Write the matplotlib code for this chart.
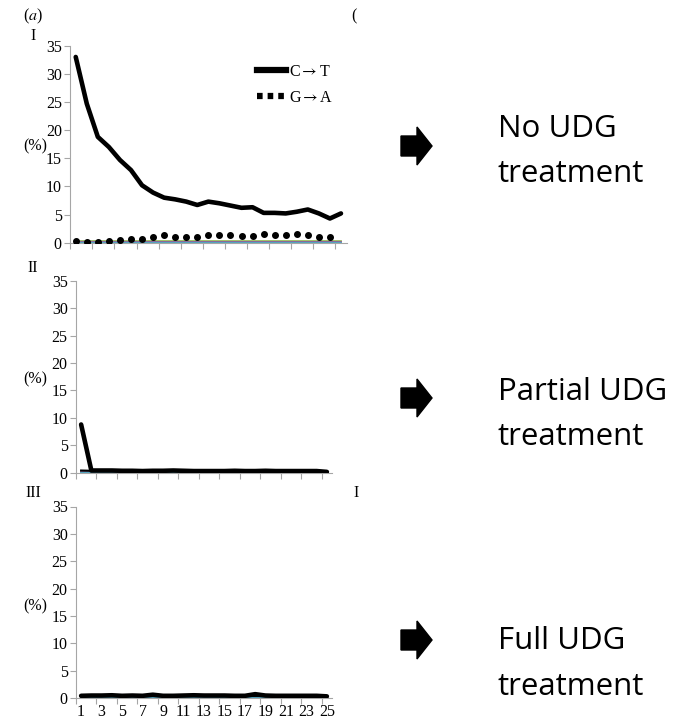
import numpy as np
import matplotlib
matplotlib.use("Agg")
import matplotlib.pyplot as plt
from matplotlib.lines import Line2D
from matplotlib.patches import Polygon

plt.rcParams["mathtext.fontset"] = "stix"

# read-position 1..25
positions = list(range(1, 26))

# panel I : no UDG
ct_none = [33.0, 24.7, 18.8, 17.0, 14.7, 12.9, 10.2, 8.9, 8.0, 7.7, 7.3, 6.7, 7.3,
           7.0, 6.6, 6.2, 6.3, 5.3, 5.3, 5.2, 5.5, 5.9, 5.2, 4.3, 5.2]
ga_none = [0.35, 0.1, 0.2, 0.35, 0.5, 0.7, 0.7, 1.1, 1.35, 1.1, 1.1, 1.1, 1.35,
           1.3, 1.35, 1.2, 1.2, 1.5, 1.35, 1.3, 1.5, 1.35, 1.1, 1.1]

# panel II : partial UDG
ct_partial = [8.8, 0.4, 0.4, 0.4, 0.35, 0.35, 0.3, 0.35, 0.35, 0.4, 0.35, 0.3, 0.3,
              0.3, 0.3, 0.35, 0.3, 0.3, 0.35, 0.3, 0.3, 0.3, 0.3, 0.3, 0.15]
ga_partial = [0.4, 0.35, 0.3, 0.3, 0.3, 0.3, 0.3, 0.3, 0.3, 0.3, 0.3, 0.3, 0.3,
              0.3, 0.3, 0.3, 0.3, 0.3, 0.3, 0.3, 0.3, 0.3, 0.3, 0.3, 0.3]

# panel III : full UDG
ct_full = [0.4, 0.45, 0.45, 0.5, 0.4, 0.45, 0.4, 0.6, 0.4, 0.4, 0.45, 0.5, 0.45,
           0.45, 0.45, 0.4, 0.4, 0.7, 0.45, 0.4, 0.4, 0.4, 0.4, 0.4, 0.3]
ga_full = [0.3] * 25

# remaining substitution types, all close to zero
other_levels = [0.3, 0.18, 0.1, 0.03]
other_colors = ["#9bbb59", "#f79646", "#8064a2", "#4bacc6"]

panel_names = ["I", "II", "III"]
ct_all = [ct_none, ct_partial, ct_full]
ga_all = [ga_none, ga_partial, ga_full]
treatments = [["No UDG", "treatment"], ["Partial UDG", "treatment"], ["Full UDG", "treatment"]]

W, H = 687, 719
fig = plt.figure(figsize=(W / 100, H / 100), dpi=100)

# axes boxes in pixels: left, right, y0 pixel, y35 pixel
boxes = [(70.2, 346.5, 242.7, 45.7),
         (76, 332, 472.7, 280.9),
         (76, 332, 698, 506.5)]

serif = "Liberation Serif"
grey = "#a6a6a6"
fs = 11.5

for i, (l, r, yb, yt) in enumerate(boxes):
    ax = fig.add_axes([l / W, 1 - yb / H, (r - l) / W, (yb - yt) / H])
    for c, lev in zip(other_colors, other_levels):
        ax.plot(positions, [lev] * len(positions), color=c, lw=1.3, zorder=1)
    if i == 0:
        ax.plot(positions[:len(ga_all[i])], ga_all[i], ls="none", marker="o",
                ms=4.0, color="black", zorder=3)
    else:
        ax.plot(positions, ga_all[i], color="black", lw=1.5, zorder=2)
    ax.plot(positions, ct_all[i], color="black", lw=3.3, solid_joinstyle="round",
            solid_capstyle="round", zorder=4)

    ax.set_xlim(0.5, 25.5)
    ax.set_ylim(0, 35)
    ax.set_yticks(range(0, 36, 5))
    ax.set_xticks(np.arange(0.5, 25.5, 2))
    ax.set_xticklabels([])
    ax.tick_params(axis="both", direction="out", length=4.5, width=0.8, color=grey,
                   labelsize=fs, pad=1.5)
    for lab in ax.get_yticklabels():
        lab.set_fontfamily(serif)
    if i == 2:
        ax.set_xticks(range(1, 26, 2), minor=True)
        ax.set_xticklabels([str(v) for v in range(1, 26, 2)], minor=True)
        ax.tick_params(axis="x", which="minor", length=0, labelsize=fs, pad=4)
        for lab in ax.get_xticklabels(minor=True):
            lab.set_fontfamily(serif)
    for s in ["top", "right"]:
        ax.spines[s].set_visible(False)
    for s in ["left", "bottom"]:
        ax.spines[s].set_color(grey)
        ax.spines[s].set_linewidth(0.8)
    ax.set_facecolor("none")

    if i == 0:
        handles = [Line2D([], [], color="black", lw=4.5),
                   Line2D([], [], color="black", lw=4.5, ls=(0, (0.9, 0.8)))]
        fig.legend(handles, [r"C$\rightarrow$T", r"G$\rightarrow$A"],
                   loc="upper left", bbox_to_anchor=(257 / W, 1 - 64 / H),
                   frameon=False, handlelength=1.8, handletextpad=0.2,
                   labelspacing=0.6, borderpad=0, borderaxespad=0,
                   prop={"family": serif, "size": fs})

# overlay in pixel space for labels, arrows and side texts
ov = fig.add_axes([0, 0, 1, 1])
ov.set_xlim(0, W)
ov.set_ylim(H, 0)
ov.axis("off")
ov.set_zorder(-1)

ov.text(33, 16, r"($\mathit{a}$)", family=serif, fontsize=fs, ha="center", va="center")
ov.text(354, 16, "(", family=serif, fontsize=fs, ha="center", va="center")
ov.text(356, 493, "I", family=serif, fontsize=fs, ha="center", va="center")

numeral_y = [36, 268, 493]
percent_y = [146, 379, 606]
for name, ny, py in zip(panel_names, numeral_y, percent_y):
    ov.text(33, ny, name, family=serif, fontsize=fs, ha="center", va="center")
    ov.text(35, py, "(%)", family=serif, fontsize=fs, ha="center", va="center")

arrow_y = [146, 398, 640]
base_y = [(137, 182), (400, 445), (649, 695)]
for cy, (b1, b2), lines in zip(arrow_y, base_y, treatments):
    shape = [(401, cy - 10), (417, cy - 10), (417, cy - 19), (432, cy),
             (417, cy + 19), (417, cy + 10), (401, cy + 10)]
    ov.add_patch(Polygon(shape, closed=True, color="black"))
    ov.text(498, b1, lines[0], family="Open Sans", fontsize=22.5, va="baseline")
    ov.text(498, b2, lines[1], family="Open Sans", fontsize=22.5, va="baseline")

fig.savefig("out.png", dpi=100)
